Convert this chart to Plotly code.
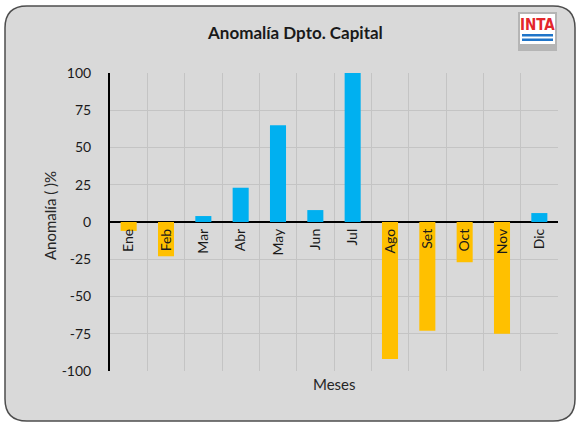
import plotly.graph_objects as go

months = ["Ene", "Feb", "Mar", "Abr", "May", "Jun", "Jul", "Ago", "Set", "Oct", "Nov", "Dic"]
anomaly = [-6, -23, 4, 23, 65, 8, 100, -92, -73, -27, -75, 6]
y_ticks = [-100, -75, -50, -25, 0, 25, 50, 75, 100]
y_tick_text = ["-100", "-75", "-50", "-25", "0", "25", "50", "75", "100"]

W, H = 578, 425
L, R, T, B = 110, 20, 73, 54
PW, PH = W - L - R, H - T - B

def px(x):
    return (x - L) / PW

def py(y):
    return (H - B - y) / PH

BLUE = "#00B0F0"
ORANGE = "#FFC000"
BG = "#D9D9D9"
FONT = "Lato, 'Liberation Sans', sans-serif"

colors = [BLUE if v >= 0 else ORANGE for v in anomaly]

fig = go.Figure(go.Bar(x=months, y=anomaly, marker=dict(color=colors, line=dict(width=0)),
                       width=0.43))

# rounded chart-area background
x0, x1, y0, y1, rr = 5, 575, 6, 421, 22
path = (f"M {px(x0+rr)},{py(y0)} L {px(x1-rr)},{py(y0)} Q {px(x1)},{py(y0)} {px(x1)},{py(y0+rr)} "
        f"L {px(x1)},{py(y1-rr)} Q {px(x1)},{py(y1)} {px(x1-rr)},{py(y1)} "
        f"L {px(x0+rr)},{py(y1)} Q {px(x0)},{py(y1)} {px(x0)},{py(y1-rr)} "
        f"L {px(x0)},{py(y0+rr)} Q {px(x0)},{py(y0)} {px(x0+rr)},{py(y0)} Z")
shapes = [dict(type="path", path=path, xref="paper", yref="paper", fillcolor=BG,
               line=dict(color="#4D4D4D", width=1.5), layer="below")]

# INTA logo
shapes += [
    dict(type="rect", xref="paper", yref="paper", x0=px(518), x1=px(557), y0=py(12), y1=py(51),
         fillcolor="#B5B5B5", line=dict(width=0), layer="above"),
    dict(type="rect", xref="paper", yref="paper", x0=px(520), x1=px(555), y0=py(14), y1=py(44),
         fillcolor="white", line=dict(width=0), layer="above"),
    dict(type="rect", xref="paper", yref="paper", x0=px(522), x1=px(553), y0=py(34), y1=py(36.5),
         fillcolor="#1F74C8", line=dict(width=0), layer="above"),
    dict(type="rect", xref="paper", yref="paper", x0=px(522), x1=px(553), y0=py(38.5), y1=py(41),
         fillcolor="#1F74C8", line=dict(width=0), layer="above"),
]

annotations = [
    dict(text="<b>Anomalía Dpto. Capital</b>", x=px(295), y=py(33), xref="paper", yref="paper",
         xanchor="center", yanchor="middle",
         showarrow=False, font=dict(size=17, color="#1a1a1a", family=FONT)),
    dict(text="<b>INTA</b>", x=px(537.5), y=py(25), xref="paper", yref="paper", showarrow=False,
         xanchor="center", yanchor="middle",
         font=dict(size=15, color="#E3262B", family="'DejaVu Sans Condensed', Roboto, sans-serif")),
    dict(text="Anomalía ( )%", x=px(50), y=py(216), xref="paper", yref="paper", showarrow=False,
         xanchor="center", yanchor="middle",
         textangle=-90, font=dict(size=15, color="#262626", family=FONT)),
    dict(text="Meses", x=px(334), y=py(384), xref="paper", yref="paper", showarrow=False,
         xanchor="center", yanchor="middle",
         font=dict(size=15, color="#262626", family=FONT)),
]

fig.update_layout(
    width=W, height=H,
    margin=dict(l=L, r=R, t=T, b=B, pad=0),
    paper_bgcolor="white", plot_bgcolor=BG,
    showlegend=False,
    shapes=shapes, annotations=annotations,
    font=dict(family=FONT, color="#1a1a1a", size=12),
    bargap=0.55,
)

fig.update_xaxes(type="category", categoryorder="array", categoryarray=months,
                 tickson="boundaries", showgrid=True, gridcolor="#C4C4C4", gridwidth=1,
                 showline=False, ticks="", tickangle=-90, anchor="free", position=0.5,
                 tickfont=dict(size=14, family=FONT, color="#1a1a1a"), ticklabelstandoff=3,
                 zeroline=False, mirror=False)
fig.update_yaxes(range=[-100, 100], tickvals=y_ticks, ticktext=y_tick_text,
                 showgrid=True, gridcolor="#C4C4C4",
                 gridwidth=1, zeroline=True, zerolinecolor="black", zerolinewidth=2,
                 showline=True, linecolor="black", linewidth=2, ticks="",
                 ticklabelstandoff=14, tickfont=dict(size=14, family=FONT, color="#1a1a1a"))

fig.write_html("out.html")
